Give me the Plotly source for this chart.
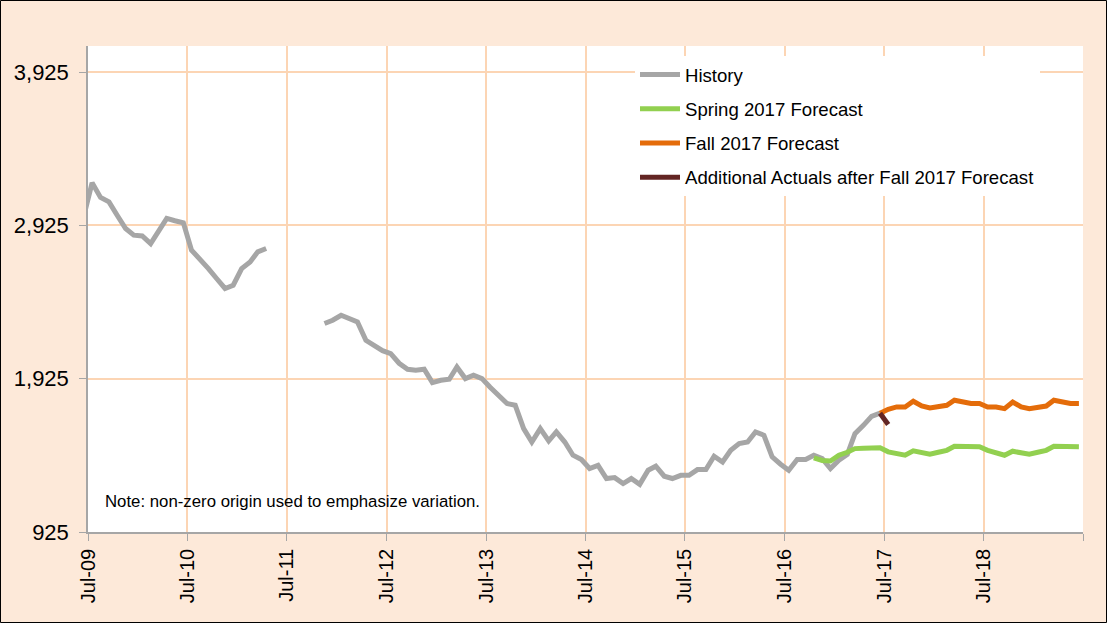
import pandas as pd
import plotly.graph_objects as go

# ---- data (monthly, Jun-09 .. Jun-19) ----
history = [2990,
           3203, 3108, 3079, 2992, 2905, 2862, 2857, 2807, 2889, 2971, 2956, 2942,
           2764, 2709, 2644, 2579, 2514, 2535, 2644, 2687, 2753, 2775,
           None, None, None, None, None, None,
           2285, 2307, 2339, 2320, 2296, 2176, 2144, 2108, 2089, 2026, 1987, 1980,
           1987, 1900, 1915, 1922, 2002, 1926, 1948, 1926, 1869, 1817, 1763, 1752,
           1600, 1512, 1600, 1519, 1578, 1512, 1426, 1398, 1339, 1360, 1274, 1280,
           1241, 1274, 1236, 1328, 1354, 1289, 1274, 1295, 1295, 1332, 1332, 1419,
           1382, 1458, 1502, 1512, 1578, 1556, 1415, 1367, 1328, 1398, 1398, 1426,
           1404, 1339, 1393, 1432, 1567, 1621, 1680, 1700]
spring_2017 = [1409, 1392, 1388, 1426, 1445, 1469, 1471, 1473, 1475, 1448, 1439,
               1426, 1455, 1445, 1432, 1445, 1458, 1484, 1484, 1484, 1481, 1458,
               1439, 1426, 1452, 1445, 1432, 1445, 1458, 1484, 1484, 1484, 1481]
fall_2017 = [1700, 1726, 1741, 1741, 1778, 1747, 1734, 1741, 1752, 1785, 1773,
             1763, 1763, 1741, 1741, 1730, 1773, 1741, 1730, 1741, 1747, 1785,
             1773, 1763, 1763]
additional_actuals = [1700, 1626]

tick_years = list(range(2009, 2020))
tick_labels = ["Jul-09", "Jul-10", "Jul-11", "Jul-12", "Jul-13", "Jul-14",
               "Jul-15", "Jul-16", "Jul-17", "Jul-18", ""]
y_ticks = [925, 1925, 2925, 3925]

months = pd.date_range("2009-06-01", "2019-06-01", freq="MS") + pd.Timedelta(days=15)
n = len(months)
x_hist = months[:len(history)]
x_spring = months[n - len(spring_2017):]
x_fall = months[n - len(fall_2017):]
x_act = months[len(history) - 1:len(history) - 1 + len(additional_actuals)]

GRAY = "#A6A6A6"
GREEN = "#92D050"
ORANGE = "#E46C0A"
DARKRED = "#632523"
PEACH = "#FDE9D9"
GRID = "#FCD5B4"

fig = go.Figure()
lw = 5
fig.add_trace(go.Scatter(x=x_hist, y=history, mode="lines", name="History",
                         line=dict(color=GRAY, width=lw), connectgaps=False,
                         legendgroup="a"))
fig.add_trace(go.Scatter(x=x_spring, y=spring_2017, mode="lines",
                         name="Spring 2017 Forecast",
                         line=dict(color=GREEN, width=lw), legendgroup="b"))
fig.add_trace(go.Scatter(x=x_fall, y=fall_2017, mode="lines",
                         name="Fall 2017 Forecast",
                         line=dict(color=ORANGE, width=lw), legendgroup="c"))
fig.add_trace(go.Scatter(x=x_act, y=additional_actuals, mode="lines",
                         name="Additional Actuals after Fall 2017 Forecast",
                         line=dict(color=DARKRED, width=lw), legendgroup="d"))

FONT = "Liberation Sans, Arial, sans-serif"
W, H = 1107, 623
ml, mr, mt, mb = 88, 24, 46, 91
pw, ph = W - ml - mr, H - mt - mb

fig.update_layout(
    width=W, height=H, autosize=False,
    paper_bgcolor=PEACH, plot_bgcolor="white",
    margin=dict(l=ml, r=mr, t=mt, b=mb, pad=0),
    font=dict(family=FONT, color="black"),
    showlegend=True,
    legend=dict(x=(635 - ml) / pw, y=(mt + ph - 56) / ph, xanchor="left", yanchor="top",
                bgcolor="white", borderwidth=0, font=dict(size=18.6, family=FONT),
                traceorder="grouped", tracegroupgap=7, itemwidth=40),
    xaxis=dict(type="date",
               range=["2009-07-01", "2019-07-01"],
               tickvals=[f"{y}-07-01" for y in tick_years], ticktext=tick_labels,
               tickangle=-90, tickfont=dict(size=20, family=FONT),
               showgrid=True, gridcolor=GRID, gridwidth=1.5,
               showline=True, linecolor=GRAY, linewidth=1.5,
               ticks="outside", ticklen=7, tickcolor=GRAY, zeroline=False),
    yaxis=dict(range=[925, 4096], tickvals=y_ticks, tickformat=",d",
               tickfont=dict(size=22, family=FONT),
               showgrid=True, gridcolor=GRID, gridwidth=1.5,
               showline=True, linecolor=GRAY, linewidth=1.5,
               ticks="outside", ticklen=7, tickcolor=GRAY, zeroline=False,
               ticklabelstandoff=6),
    annotations=[dict(text="Note: non-zero origin used to emphasize variation.",
                      xref="paper", yref="paper", x=(103 - ml) / pw,
                      y=(mt + ph - 501) / ph, xanchor="left", yanchor="middle",
                      showarrow=False, font=dict(size=16.8, family=FONT, color="black"))],
    shapes=[dict(type="rect", xref="paper", yref="paper",
                 x0=(0.5 - ml) / pw, x1=(W - 0.5 - ml) / pw,
                 y0=(mt + ph - (H - 0.5)) / ph, y1=(mt + ph - 0.5) / ph,
                 line=dict(color="black", width=1), fillcolor="rgba(0,0,0,0)",
                 layer="above")],
)

fig.write_html("out.html", config={"displayModeBar": False},
               post_script="document.body.style.margin='0';")
